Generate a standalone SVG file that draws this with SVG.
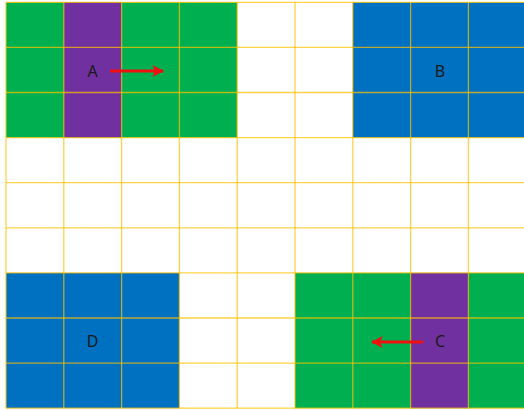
<svg xmlns="http://www.w3.org/2000/svg" width="524" height="410" viewBox="0 0 524 410">
<defs>
<style>
.g{fill:#00B050}.p{fill:#7030A0}.b{fill:#0070C0}
.grid line{stroke:#FFC000;stroke-opacity:0.72;stroke-width:1.3}
.lbl{font-family:"Noto Sans","Liberation Sans",sans-serif;font-size:16px;fill:#1a1a1a;text-anchor:middle}
.arr{stroke:#F01010;stroke-width:3;fill:none;marker-end:url(#ah)}
</style>
<marker id="ah" viewBox="0 0 10 10" refX="9" refY="5" markerWidth="4" markerHeight="4" orient="auto" markerUnits="strokeWidth">
<path d="M0,0 L10,5 L0,10 L2.5,5 Z" fill="#F01010"/>
</marker>
</defs>
<rect width="524" height="410" fill="#FFFFFF"/>
<g id="A">
<rect class="g" x="6" y="2.3" width="231.2" height="135.3"/>
<rect class="p" x="63.8" y="2.3" width="57.8" height="135.3"/>
<text class="lbl" x="92.5" y="76.5">A</text>
</g>
<g id="B">
<rect class="b" x="352.8" y="2.3" width="173.4" height="135.3"/>
<text class="lbl" x="440" y="76.5">B</text>
</g>
<g id="D">
<rect class="b" x="6" y="272.9" width="173.4" height="135.3"/>
<text class="lbl" x="92.5" y="347">D</text>
</g>
<g id="C">
<rect class="g" x="295" y="272.9" width="231.2" height="135.3"/>
<rect class="p" x="410.6" y="272.9" width="57.8" height="135.3"/>
<text class="lbl" x="440" y="347">C</text>
</g>
<g class="grid">
<line x1="6" y1="2.3" x2="6" y2="408.2"/>
<line x1="63.8" y1="2.3" x2="63.8" y2="408.2"/>
<line x1="121.6" y1="2.3" x2="121.6" y2="408.2"/>
<line x1="179.4" y1="2.3" x2="179.4" y2="408.2"/>
<line x1="237.2" y1="2.3" x2="237.2" y2="408.2"/>
<line x1="295" y1="2.3" x2="295" y2="408.2"/>
<line x1="352.8" y1="2.3" x2="352.8" y2="408.2"/>
<line x1="410.6" y1="2.3" x2="410.6" y2="408.2"/>
<line x1="468.4" y1="2.3" x2="468.4" y2="408.2"/>
<line x1="6" y1="2.3" x2="524" y2="2.3"/>
<line x1="6" y1="47.4" x2="524" y2="47.4"/>
<line x1="6" y1="92.5" x2="524" y2="92.5"/>
<line x1="6" y1="137.6" x2="524" y2="137.6"/>
<line x1="6" y1="182.7" x2="524" y2="182.7"/>
<line x1="6" y1="227.8" x2="524" y2="227.8"/>
<line x1="6" y1="272.9" x2="524" y2="272.9"/>
<line x1="6" y1="318" x2="524" y2="318"/>
<line x1="6" y1="363.1" x2="524" y2="363.1"/>
<line x1="6" y1="408.2" x2="524" y2="408.2"/>
</g>
<g id="connectors">
<line class="arr" x1="110" y1="71" x2="163" y2="71"/>
<line class="arr" x1="423" y1="342" x2="372" y2="342"/>
</g>
</svg>
